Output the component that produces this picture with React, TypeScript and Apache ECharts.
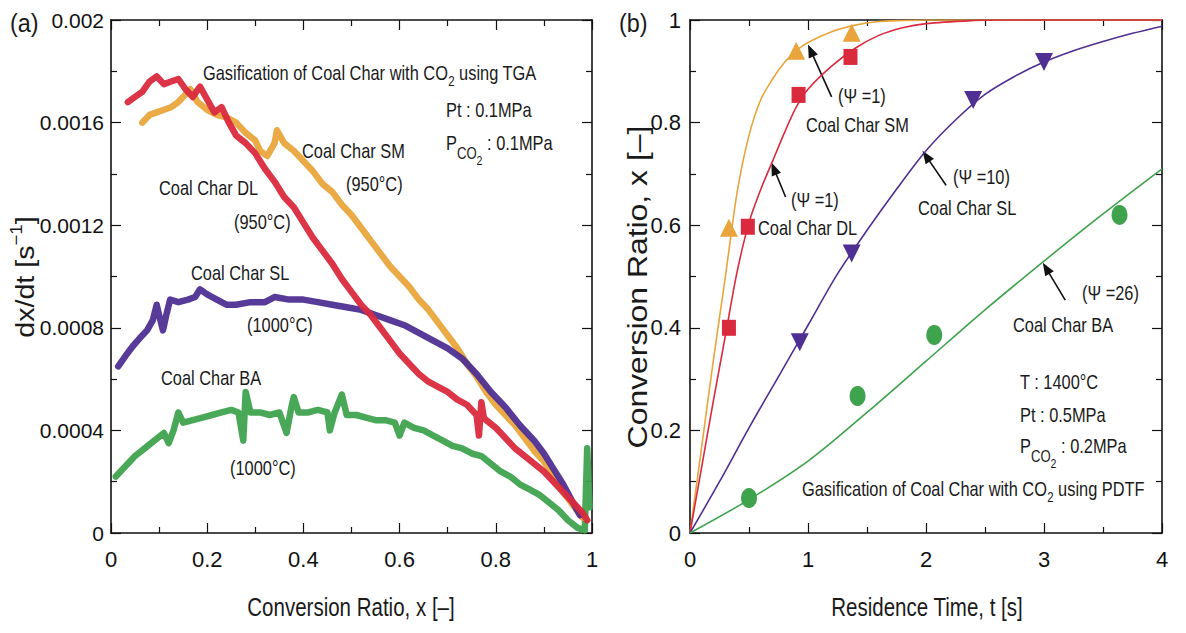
import React, { useEffect, useRef } from 'react';
import * as echarts from 'echarts';

const FONT = "'Liberation Sans', Arial, sans-serif";
const NARROW = 0.82;

const C_SM = '#E9A53B';
const C_DL = '#DA2A3E';
const C_SL = '#4F2F92';
const C_BA = '#3FA34E';

// ---------- Panel (a): dx/dt vs conversion ratio (TGA) ----------
const rateDL: [number, number][] = [
  [0.035, 0.00168], [0.05, 0.0017], [0.065, 0.00172], [0.08, 0.00176], [0.095, 0.00178], [0.11, 0.00175],
  [0.125, 0.00176], [0.14, 0.00177], [0.155, 0.00173], [0.17, 0.0017], [0.185, 0.00174], [0.2, 0.00169],
  [0.215, 0.00164], [0.23, 0.00166], [0.245, 0.0016], [0.26, 0.00155], [0.28, 0.00152], [0.3, 0.00148],
  [0.32, 0.00142], [0.34, 0.00137], [0.36, 0.00131], [0.38, 0.00127], [0.4, 0.00121], [0.42, 0.00115],
  [0.44, 0.0011], [0.46, 0.00105], [0.48, 0.00099], [0.5, 0.00094], [0.52, 0.00089], [0.54, 0.00085],
  [0.56, 0.0008], [0.58, 0.00075], [0.6, 0.0007], [0.62, 0.00066], [0.64, 0.00062], [0.66, 0.00059],
  [0.68, 0.00057], [0.7, 0.00055], [0.72, 0.00052], [0.74, 0.0005], [0.76, 0.00046], [0.765, 0.00038],
  [0.77, 0.00051], [0.775, 0.00045], [0.78, 0.00044], [0.8, 0.00041], [0.82, 0.00037], [0.84, 0.00033],
  [0.86, 0.0003], [0.88, 0.00027], [0.9, 0.00024], [0.92, 0.0002], [0.94, 0.00016], [0.96, 0.00012],
  [0.98, 0.00008], [0.99, 0.00005],
];
const rateSM: [number, number][] = [
  [0.065, 0.0016], [0.08, 0.00163], [0.095, 0.00164], [0.11, 0.00165], [0.125, 0.00166], [0.14, 0.00168],
  [0.155, 0.00171], [0.165, 0.00173], [0.18, 0.00168], [0.2, 0.00165], [0.22, 0.00163], [0.24, 0.00162],
  [0.26, 0.0016], [0.28, 0.00156], [0.3, 0.00153], [0.31, 0.00149], [0.325, 0.00147], [0.34, 0.00152],
  [0.345, 0.00157], [0.36, 0.00152], [0.38, 0.00149], [0.4, 0.00145], [0.42, 0.00141], [0.44, 0.00136],
  [0.46, 0.00133], [0.48, 0.00128], [0.5, 0.00124], [0.52, 0.00119], [0.54, 0.00114], [0.56, 0.00109],
  [0.58, 0.00104], [0.6, 0.001], [0.62, 0.00096], [0.64, 0.00091], [0.66, 0.00087], [0.68, 0.00082],
  [0.7, 0.00077], [0.72, 0.00072], [0.74, 0.00066], [0.76, 0.00061], [0.78, 0.00055], [0.8, 0.0005],
  [0.82, 0.00046], [0.84, 0.00042], [0.86, 0.00037], [0.88, 0.00032], [0.9, 0.00028], [0.92, 0.00022],
  [0.94, 0.00016], [0.96, 0.00011], [0.98, 0.00006],
];
const rateSL: [number, number][] = [
  [0.015, 0.00065], [0.03, 0.00069], [0.046, 0.00073], [0.06, 0.00076], [0.075, 0.00079], [0.087, 0.00083],
  [0.095, 0.00089], [0.1, 0.00085], [0.108, 0.00079], [0.115, 0.00085], [0.123, 0.00091], [0.14, 0.0009],
  [0.16, 0.00091], [0.175, 0.00092], [0.185, 0.00095], [0.2, 0.00093], [0.22, 0.00091], [0.24, 0.00089],
  [0.26, 0.00089], [0.29, 0.0009], [0.32, 0.0009], [0.34, 0.00092], [0.37, 0.00091], [0.4, 0.00091],
  [0.43, 0.0009], [0.46, 0.00089], [0.49, 0.00088], [0.52, 0.00087], [0.55, 0.00085], [0.58, 0.00083],
  [0.61, 0.00081], [0.64, 0.00078], [0.67, 0.00075], [0.7, 0.00072], [0.73, 0.00068], [0.76, 0.00062],
  [0.79, 0.00055], [0.82, 0.00049], [0.85, 0.00042], [0.88, 0.00036], [0.9, 0.00031], [0.92, 0.00025],
  [0.94, 0.00019], [0.96, 0.00012], [0.975, 0.00007],
];
const rateBA: [number, number][] = [
  [0.01, 0.00022], [0.03, 0.00026], [0.05, 0.0003], [0.07, 0.00033], [0.09, 0.00036], [0.11, 0.00039],
  [0.12, 0.00035], [0.13, 0.0004], [0.14, 0.00047], [0.15, 0.00043], [0.17, 0.00044], [0.19, 0.00045],
  [0.21, 0.00046], [0.23, 0.00047], [0.25, 0.00048], [0.265, 0.00047], [0.275, 0.00036], [0.28, 0.00055],
  [0.29, 0.00047], [0.31, 0.00047], [0.33, 0.00046], [0.35, 0.00047], [0.365, 0.00039], [0.375, 0.00049],
  [0.38, 0.00053], [0.39, 0.00047], [0.41, 0.00047], [0.43, 0.00048], [0.45, 0.00047], [0.455, 0.0004],
  [0.465, 0.00047], [0.48, 0.00054], [0.49, 0.00046], [0.51, 0.00046], [0.53, 0.00045], [0.55, 0.00044],
  [0.57, 0.00044], [0.59, 0.00043], [0.6, 0.00038], [0.61, 0.00043], [0.63, 0.00041], [0.65, 0.0004],
  [0.67, 0.00038], [0.69, 0.00036], [0.71, 0.00034], [0.73, 0.00033], [0.75, 0.00031], [0.77, 0.0003],
  [0.79, 0.00027], [0.81, 0.00024], [0.83, 0.00022], [0.85, 0.00019], [0.87, 0.00017], [0.89, 0.00015],
  [0.91, 0.00012], [0.93, 0.00009], [0.95, 0.00005], [0.97, 0.00002], [0.985, 0.00001], [0.99, 0.00033],
  [0.995, 0.0001],
];

// ---------- Panel (b): conversion vs residence time (PDTF) ----------
const modelSM: [number, number][] = [
  [0, 0], [0.1, 0.17], [0.2, 0.34], [0.3, 0.5], [0.4, 0.665], [0.5, 0.775], [0.6, 0.845], [0.7, 0.885],
  [0.8, 0.917], [0.9, 0.94], [1.0, 0.956], [1.2, 0.977], [1.4, 0.99], [1.6, 0.997], [1.8, 0.999], [2, 1], [4, 1],
];
const modelDL: [number, number][] = [
  [0, 0], [0.1, 0.13], [0.2, 0.26], [0.3, 0.385], [0.4, 0.51], [0.5, 0.605], [0.6, 0.67], [0.7, 0.725],
  [0.8, 0.78], [0.9, 0.83], [1.0, 0.865], [1.2, 0.91], [1.4, 0.945], [1.6, 0.97], [1.8, 0.985], [2.0, 0.993],
  [2.4, 0.999], [2.6, 1], [4, 1],
];
const modelSL: [number, number][] = [
  [0, 0], [0.25, 0.1], [0.5, 0.205], [0.75, 0.305], [1.0, 0.405], [1.25, 0.505], [1.5, 0.59], [1.75, 0.67],
  [2.0, 0.745], [2.25, 0.805], [2.5, 0.855], [2.75, 0.89], [3.0, 0.918], [3.25, 0.94], [3.5, 0.958],
  [3.75, 0.974], [4.0, 0.988],
];
const modelBA: [number, number][] = [
  [0, 0], [0.5, 0.065], [1.0, 0.14], [1.5, 0.235], [2.0, 0.335], [2.5, 0.435], [3.0, 0.53], [3.5, 0.622], [4.0, 0.71],
];
const expSM: [number, number][] = [[0.33, 0.595], [0.9, 0.94], [1.37, 0.975]];
const expDL: [number, number][] = [[0.33, 0.4], [0.49, 0.597], [0.92, 0.854], [1.36, 0.928]];
const expSL: [number, number][] = [[0.93, 0.372], [1.37, 0.545], [2.4, 0.844], [3.0, 0.918]];
const expBA: [number, number][] = [[0.5, 0.068], [1.42, 0.267], [2.07, 0.386], [3.64, 0.62]];

// arrows of panel (b) in data coordinates: [tip, tail]
const arrowsB: [number, number][][] = [
  [[1.0, 0.952], [1.2, 0.85]],
  [[0.69, 0.722], [0.81, 0.655]],
  [[1.97, 0.745], [2.17, 0.678]],
  [[2.99, 0.527], [3.18, 0.454]],
];

const TXT = '#1a1a1a';

const tok = (size: number, padding?: number[]) => ({
  fontSize: size, fontFamily: FONT, fill: TXT, color: TXT, verticalAlign: 'middle',
  ...(padding ? { padding } : {}),
});

const richStyles = {
  m: tok(20),
  s: tok(14, [16, 0, 0, 0]),
  ps: tok(16, [22, 0, 0, 0]),
  pss: tok(13, [36, 0, 0, 0]),
};

function label(x: number, y: number, text: string, size = 20, sx = NARROW, align = 'left') {
  return {
    type: 'text', x, y, scaleX: sx, silent: true,
    style: {
      text, fontSize: size, fontFamily: FONT, fill: TXT,
      textAlign: align, align, textVerticalAlign: 'middle', verticalAlign: 'middle',
    },
  };
}

function rich(x: number, yCenter: number, text: string) {
  return {
    type: 'text', x, y: yCenter, scaleX: NARROW, silent: true,
    style: {
      text, rich: richStyles, fontSize: 20, fontFamily: FONT, fill: TXT,
      textAlign: 'left', align: 'left', textVerticalAlign: 'middle', verticalAlign: 'middle',
    },
  };
}

function axisPair(grid: number, min: number, max: number, interval: number, isX: boolean, labelMargin: number, fontSize: number, fmt?: (v: number) => string) {
  const common = {
    type: 'value', gridIndex: grid, min, max, interval,
    axisLine: { show: true, onZero: false, lineStyle: { color: '#111', width: 1.6 } },
    axisTick: { show: true, inside: true, length: 10, lineStyle: { color: '#111', width: 1.2 } },
    minorTick: { show: true, splitNumber: 2, length: 6, lineStyle: { color: '#111', width: 1.2 } },
    splitLine: { show: false },
    minorSplitLine: { show: false },
  };
  const main = {
    ...common,
    position: isX ? 'bottom' : 'left',
    axisLabel: {
      show: true, fontSize, fontFamily: FONT, color: '#111', margin: labelMargin,
      formatter: fmt,
    },
  };
  const mirror = {
    ...common,
    position: isX ? 'top' : 'right',
    axisLabel: { show: false },
  };
  return [main, mirror];
}

export default function App() {
  const ref = useRef<HTMLDivElement>(null);
  useEffect(() => {
    document.body.style.margin = '0';
    if (!ref.current) return;
    const chart = echarts.init(ref.current, undefined, { renderer: 'svg' });

    const fmtA = (v: number) => (v === 0 ? '0' : String(+v.toFixed(4)));
    const fmt1 = (v: number) => String(+v.toFixed(1));
    const [xa, xaTop] = axisPair(0, 0, 1, 0.2, true, 15, 22, fmt1);
    const [ya, yaRight] = axisPair(0, 0, 0.002, 0.0004, false, 7, 21, fmtA);
    const [xb, xbTop] = axisPair(1, 0, 4, 1, true, 15, 22);
    const [yb, ybRight] = axisPair(1, 0, 1, 0.2, false, 9, 22, fmt1);

    const rateLine = (name: string, data: [number, number][], color: string) => ({
      type: 'line', name, data, xAxisIndex: 0, yAxisIndex: 0, showSymbol: false, symbol: 'none',
      lineStyle: { color, width: 6.5, cap: 'round', join: 'round', opacity: 0.95 },
      silent: true, emphasis: { disabled: true },
    });
    const modelLine = (name: string, data: [number, number][], color: string) => ({
      type: 'line', name, data, xAxisIndex: 2, yAxisIndex: 2, showSymbol: false, symbol: 'none', smooth: 0.3,
      lineStyle: { color, width: 1.6 }, silent: true, emphasis: { disabled: true },
    });
    const expPts = (name: string, data: [number, number][], color: string, symbol: string, size: any, rotate = 0) => ({
      type: 'scatter', name, data, xAxisIndex: 2, yAxisIndex: 2, symbol, symbolSize: size, symbolRotate: rotate,
      itemStyle: { color, opacity: 1 }, silent: true, emphasis: { disabled: true }, z: 5,
    });

    const option: any = {
      animation: false,
      backgroundColor: '#ffffff',
      textStyle: { fontFamily: FONT },
      grid: [
        { left: 111, top: 20, width: 481, height: 513 },
        { left: 690, top: 20, width: 472, height: 513 },
      ],
      xAxis: [xa, xaTop, xb, xbTop],
      yAxis: [ya, yaRight, yb, ybRight],
      series: [
        rateLine('Coal Char BA', rateBA, C_BA),
        rateLine('Coal Char SM', rateSM, C_SM),
        rateLine('Coal Char SL', rateSL, C_SL),
        rateLine('Coal Char DL', rateDL, C_DL),
        modelLine('SM model', modelSM, C_SM),
        modelLine('DL model', modelDL, C_DL),
        modelLine('SL model', modelSL, C_SL),
        modelLine('BA model', modelBA, C_BA),
        expPts('SM exp', expSM, C_SM, 'triangle', 18),
        expPts('DL exp', expDL, C_DL, 'rect', [14, 16]),
        expPts('SL exp', expSL, C_SL, 'triangle', 18, 180),
        expPts('BA exp', expBA, C_BA, 'circle', [16, 20]),
      ],
    };
    chart.setOption(option);

    const graphics: any[] = [];
    // panel labels
    graphics.push(label(10, 23, '(a)', 26, 0.9));
    graphics.push(label(619, 23, '(b)', 26, 0.9));
    // axis titles
    graphics.push({
      type: 'text', x: 25, y: 277, rotation: Math.PI / 2, scaleX: 1.1, silent: true,
      style: {
        text: '{m|dx/dt [s}{sup|\u22121}{m|]}', fill: TXT,
        rich: {
          m: { fontSize: 26, fontFamily: FONT, fill: TXT, color: TXT, verticalAlign: 'middle' },
          sup: { fontSize: 17, fontFamily: FONT, fill: TXT, color: TXT, verticalAlign: 'middle', padding: [0, 0, 18, 0] },
        },
        textAlign: 'center', align: 'center', textVerticalAlign: 'middle', verticalAlign: 'middle',
      },
    });
    graphics.push({
      type: 'text', x: 637, y: 287, rotation: Math.PI / 2, scaleX: 1.14, silent: true,
      style: {
        text: 'Conversion Ratio, x [\u2013]', fontSize: 28, fontFamily: FONT, fill: TXT,
        textAlign: 'center', align: 'center', textVerticalAlign: 'middle', verticalAlign: 'middle',
      },
    });
    graphics.push(label(351, 607, 'Conversion Ratio, x [\u2013]', 25, NARROW, 'center'));
    graphics.push(label(927, 607, 'Residence Time, t [s]', 25, NARROW, 'center'));

    // panel (a) annotations
    graphics.push(rich(203, 73, '{m|Gasification of Coal Char with CO}{s|2}{m| using TGA}'));
    graphics.push(label(446, 110, 'Pt : 0.1MPa'));
    graphics.push(rich(446, 143, '{m|P}{ps|CO}{pss|2}{m| : 0.1MPa}'));
    graphics.push(label(302, 151, 'Coal Char SM'));
    graphics.push(label(346, 184, '(950\u00B0C)'));
    graphics.push(label(159, 188, 'Coal Char DL'));
    graphics.push(label(234, 222, '(950\u00B0C)'));
    graphics.push(label(191, 273, 'Coal Char SL'));
    graphics.push(label(247, 325, '(1000\u00B0C)'));
    graphics.push(label(161, 378, 'Coal Char BA'));
    graphics.push(label(230, 468, '(1000\u00B0C)'));

    // panel (b) annotations
    graphics.push(label(838, 96, '(\u03A8 =1)'));
    graphics.push(label(806, 125, 'Coal Char SM'));
    graphics.push(label(791, 200, '(\u03A8 =1)'));
    graphics.push(label(758, 228, 'Coal Char DL'));
    graphics.push(label(953, 177, '(\u03A8 =10)'));
    graphics.push(label(918, 208, 'Coal Char SL'));
    graphics.push(label(1082, 293, '(\u03A8 =26)'));
    graphics.push(label(1013, 325, 'Coal Char BA'));
    graphics.push(label(1020, 382, 'T : 1400\u00B0C'));
    graphics.push(label(1020, 415, 'Pt : 0.5MPa'));
    graphics.push(rich(1020, 446, '{m|P}{ps|CO}{pss|2}{m| : 0.2MPa}'));
    graphics.push(rich(802, 489, '{m|Gasification of Coal Char with CO}{s|2}{m| using PDTF}'));

    // arrows
    arrowsB.forEach(([tip, tail]) => {
      const p = chart.convertToPixel({ gridIndex: 1 } as any, tip) as number[];
      const q = chart.convertToPixel({ gridIndex: 1 } as any, tail) as number[];
      const dx = p[0] - q[0];
      const dy = p[1] - q[1];
      const len = Math.sqrt(dx * dx + dy * dy);
      const ux = dx / len, uy = dy / len;
      const nx = -uy, ny = ux;
      const hl = 13, hw = 5;
      const bx = p[0] - ux * hl, by = p[1] - uy * hl;
      graphics.push({
        type: 'line', silent: true,
        shape: { x1: q[0], y1: q[1], x2: bx + ux * 2, y2: by + uy * 2 },
        style: { stroke: '#111', lineWidth: 1.6 },
      });
      graphics.push({
        type: 'polygon', silent: true,
        shape: { points: [[p[0], p[1]], [bx + nx * hw, by + ny * hw], [bx - nx * hw, by - ny * hw]] },
        style: { fill: '#111' },
      });
    });

    chart.setOption({ graphic: graphics });

    return () => chart.dispose();
  }, []);
  return <div ref={ref} style={{ width: 1186, height: 633, background: '#fff' }} />;
}
